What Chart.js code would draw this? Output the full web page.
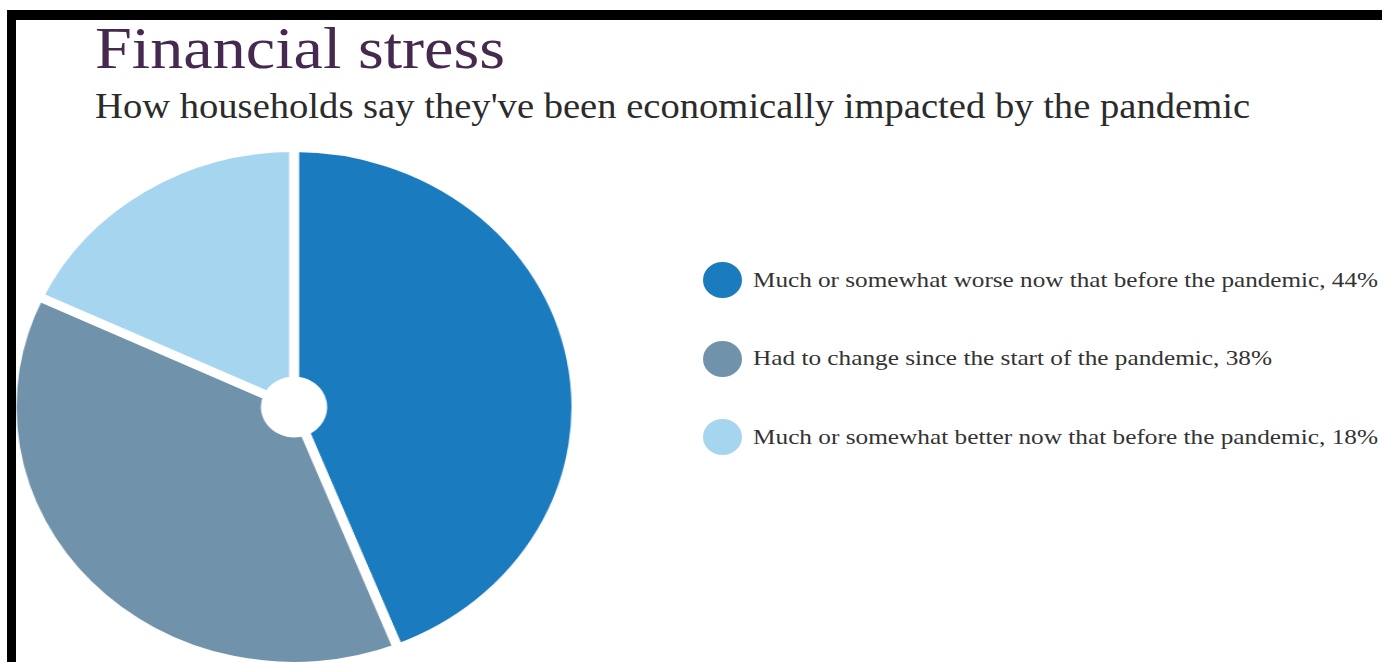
<!DOCTYPE html>
<html>
<head>
<meta charset="utf-8">
<script src="https://cdn.jsdelivr.net/npm/chart.js@4.4.1/dist/chart.umd.min.js"></script>
<style>
  html, body { margin: 0; padding: 0; background: #fff; width: 1382px; height: 662px; overflow: hidden; }
  #frame { position: absolute; left: 7px; top: 10px; width: 1400px; height: 700px; z-index: 5;
           border-top: 10px solid #000; border-left: 9px solid #000; pointer-events: none; }
  .txt { position: absolute; white-space: nowrap; transform-origin: 0 0;
         font-family: "Liberation Serif", "DejaVu Serif", serif; line-height: 1; }
  #title { left: 95px; top: 19px; font-size: 59px; color: #46294f; }
  #subtitle { left: 95px; top: 89px; font-size: 35px; color: #2b2b2b; }
  #pieBox { position: absolute; left: 30px; top: 143px; width: 528px; height: 528px;
            transform: scaleX(1.088); transform-origin: 50% 50%; }
  .dot { position: absolute; left: 703px; width: 39px; height: 36px; border-radius: 50%; }
  .leg { left: 753px; font-size: 22px; color: #333; }
</style>
</head>
<body>
<div id="frame"></div>
<div class="txt" id="title" data-w="410">Financial stress</div>
<div class="txt" id="subtitle" data-w="1155">How households say they've been economically impacted by the pandemic</div>
<div id="pieBox"><canvas id="pie"></canvas></div>
<div id="legend"></div>
<script>
  // categories and their share of households (%)
  const categories = [
    'Much or somewhat worse now that before the pandemic',
    'Had to change since the start of the pandemic',
    'Much or somewhat better now that before the pandemic'
  ];
  const shares = [44, 38, 18];

  const colors = ['#1b7bbf', '#7093ab', '#a6d5f0'];

  const ctx = document.getElementById('pie');
  const pieChart = new Chart(ctx, {
    type: 'doughnut',
    data: {
      labels: categories,
      datasets: [
        {
          data: shares,
          backgroundColor: colors,
          hoverBackgroundColor: colors,
          borderColor: '#ffffff',
          hoverBorderColor: '#ffffff',
          borderWidth: 9,
          hoverBorderWidth: 9,
          hoverOffset: 0
        }
      ]
    },
    options: {
      responsive: true,
      maintainAspectRatio: false,
      animation: false,
      events: [],
      cutout: '10%',
      layout: { padding: 0 },
      plugins: {
        legend: { display: false },
        tooltip: { enabled: false }
      }
    }
  });

  // legend on the right, built from the chart's own labels
  const legend = document.getElementById('legend');
  const legendTops = [280, 358.5, 437];
  const legendWidths = [625, 519, 625];
  pieChart.legend.legendItems.forEach((item, i) => {
    const dot = document.createElement('div');
    dot.className = 'dot';
    dot.style.background = item.fillStyle;
    dot.style.top = (legendTops[i] - 18) + 'px';
    legend.appendChild(dot);

    const txt = document.createElement('div');
    txt.className = 'txt leg';
    txt.textContent = `${categories[i]}, ${shares[i]}%`;
    txt.style.top = (legendTops[i] - 11.5) + 'px';
    txt.dataset.w = legendWidths[i];
    legend.appendChild(txt);
  });

  // stretch text a little so its width matches the original
  document.querySelectorAll('.txt[data-w]').forEach(el => {
    const w = el.getBoundingClientRect().width;
    el.style.transform = `scaleX(${(+el.dataset.w / w).toFixed(4)})`;
  });
</script>
</body>
</html>
